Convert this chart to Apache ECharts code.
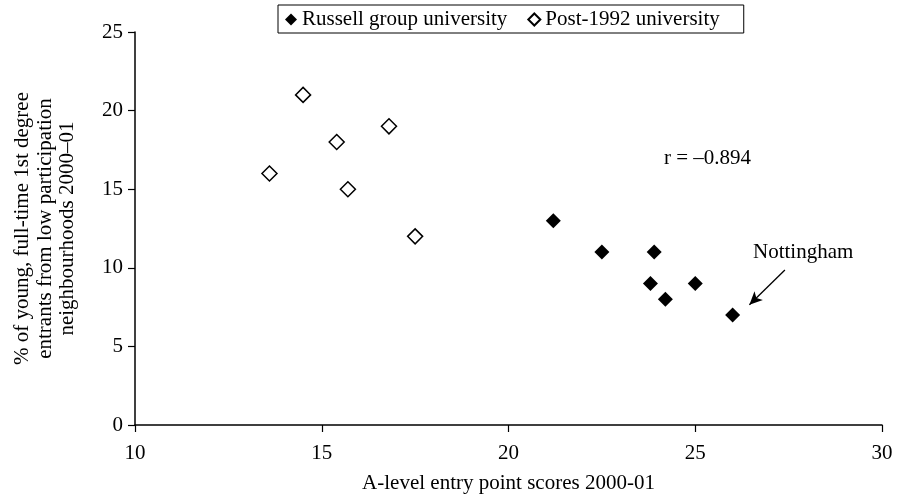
<!DOCTYPE html>
<html>
<head>
<meta charset="utf-8">
<script src="https://cdn.jsdelivr.net/npm/echarts@6/dist/echarts.min.js"></script>
<style>
  html, body { margin: 0; padding: 0; background: #fff; }
  #main { width: 902px; height: 496px; }
</style>
</head>
<body>
<div id="main"></div>
<script>
// A-level scores vs low participation entrants
var russellX = [21.2, 22.5, 23.9, 23.8, 24.2, 25.0, 26.0];
var russellY = [13, 11, 11, 9, 8, 9, 7];
var postX = [13.6, 14.5, 15.4, 15.7, 16.8, 17.5];
var postY = [16, 21, 18, 15, 19, 12];
var xTicks = [10, 15, 20, 25, 30];
var yTicks = [0, 5, 10, 15, 20, 25];
var arrowFrom = [27.4, 9.86];
var arrowTo = [26.45, 7.65];

function pairs(xs, ys) {
    return xs.map(function(x, i) { return [x, ys[i]]; });
}

var font = '"Liberation Serif", "Times New Roman", serif';
var fs = 21;
var chart = echarts.init(document.getElementById('main'));
chart.setOption({
    animation: false,
    backgroundColor: '#fff',
    textStyle: { fontFamily: font, color: '#000' },
    grid: { left: 135, right: 20, top: 32, bottom: 71, containLabel: false, outerBoundsMode: 'none' },
    legend: {
        left: 278,
        top: 5,
        itemGap: 20,
        itemWidth: 12,
        itemHeight: 12,
        borderColor: '#000',
        borderWidth: 1,
        borderRadius: 0,
        padding: [4, 24, 3, 7],
        textStyle: { fontFamily: font, fontSize: fs, color: '#000' },
        data: ['Russell group university', 'Post-1992 university']
    },
    xAxis: {
        type: 'value',
        min: xTicks[0],
        max: xTicks[xTicks.length - 1],
        interval: 5,
        name: 'A-level entry point scores 2000-01',
        nameLocation: 'middle',
        nameGap: 48,
        nameTextStyle: { fontFamily: font, fontSize: fs, color: '#000' },
        axisLine: { lineStyle: { color: '#000', width: 1.5 } },
        axisTick: { show: true, length: 7, lineStyle: { color: '#000', width: 1.2 } },
        axisLabel: { fontFamily: font, fontSize: fs, color: '#000', margin: 18 },
        splitLine: { show: false }
    },
    yAxis: {
        type: 'value',
        min: yTicks[0],
        max: yTicks[yTicks.length - 1],
        interval: 5,
        name: '% of young, full-time 1st degree\nentrants from low participation\nneighbourhoods 2000\u201301',
        nameLocation: 'middle',
        nameRotate: 90,
        nameGap: 56,
        nameTextStyle: { fontFamily: font, fontSize: fs, color: '#000', lineHeight: 22.5 },
        axisLine: { show: true, lineStyle: { color: '#000', width: 1.5 } },
        axisTick: { show: true, length: 7, lineStyle: { color: '#000', width: 1.2 } },
        axisLabel: { fontFamily: font, fontSize: fs, color: '#000', margin: 12 },
        splitLine: { show: false }
    },
    series: [{
        name: 'Russell group university',
        type: 'scatter',
        symbol: 'diamond',
        symbolSize: 15,
        itemStyle: { color: '#000', opacity: 1 },
        data: pairs(russellX, russellY),
        markLine: {
            silent: true,
            symbol: ['none', 'arrow'],
            symbolSize: [9, 13],
            label: { show: false },
            lineStyle: { color: '#000', width: 1.3, type: 'solid', opacity: 1 },
            data: [[{ coord: arrowFrom }, { coord: arrowTo }]]
        }
    }, {
        name: 'Post-1992 university',
        type: 'scatter',
        symbol: 'diamond',
        symbolSize: 15,
        itemStyle: { color: '#fff', borderColor: '#000', borderWidth: 1.5, opacity: 1 },
        data: pairs(postX, postY)
    }],
    graphic: [{
        type: 'text',
        left: 664,
        top: 148,
        style: { text: 'r = \u20130.894', font: fs + 'px ' + font, fill: '#000' }
    }, {
        type: 'text',
        left: 753,
        top: 242,
        style: { text: 'Nottingham', font: fs + 'px ' + font, fill: '#000' }
    }]
});
</script>
</body>
</html>
